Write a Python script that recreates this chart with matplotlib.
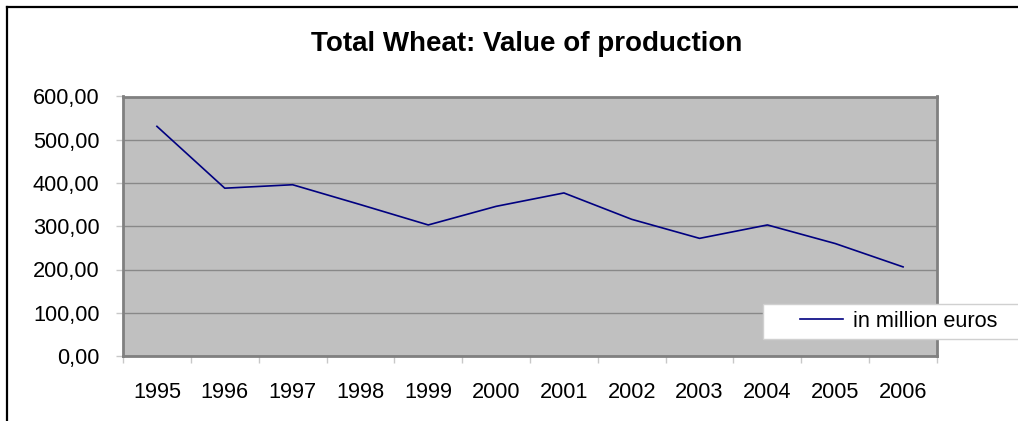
import matplotlib
matplotlib.use("Agg")
import matplotlib.pyplot as plt
from matplotlib.lines import Line2D
from matplotlib.patches import Rectangle
import numpy as np

plt.rcParams['font.family'] = ['Liberation Sans', 'DejaVu Sans']

years = ['1995', '1996', '1997', '1998', '1999', '2000',
         '2001', '2002', '2003', '2004', '2005', '2006']
value = [531, 388, 396, 350, 303, 346, 377, 316, 272, 303, 260, 206]
series_name = 'in million euros'
yticks = [0, 100, 200, 300, 400, 500, 600]

W, H = 1018, 421
fig = plt.figure(figsize=(W / 100, H / 100), dpi=100)
fig.patch.set_facecolor('white')

# plot area in pixels: x 123..937, y 96..356
ax = fig.add_axes([123 / W, 1 - 356 / H, (937 - 123) / W, (356 - 96.5) / H])
ax.set_facecolor('#c0c0c0')

x = np.arange(len(years))
ax.plot(x, value, color='#000080', lw=1.2, label=series_name, zorder=3)

ax.set_xlim(-0.5, len(years) - 0.5)
ax.set_ylim(0, 600)

ax.set_yticks(yticks)
ax.set_yticklabels([('%.2f' % v).replace('.', ',') for v in yticks])
ax.yaxis.grid(True, color='#888888', lw=1.0)
ax.set_axisbelow(True)

# category labels in the middle, small ticks on the boundaries
ax.set_xticks(x)
ax.set_xticklabels(years)
ax.set_xticks(np.arange(len(years) + 1) - 0.5, minor=True)
ax.tick_params(axis='x', which='major', length=0, pad=19, labelsize=15.7, colors='black')
ax.tick_params(axis='x', which='minor', length=5, width=1, color='#c8c8c8')
ax.tick_params(axis='y', length=5, width=1, color='#c8c8c8', pad=12, labelsize=15.7)
# two of the boundary ticks are black in the original
minor_ticks = ax.xaxis.get_minor_ticks()
for i in (4, 11):
    minor_ticks[i].tick1line.set_color('black')

for s in ax.spines.values():
    s.set_color('#808080')
    s.set_linewidth(2)

fig.text(527 / W, 1 - 50.7 / H, 'Total Wheat: Value of production',
         ha='center', va='baseline', fontsize=20, fontweight='bold')

# legend box (runs off the right edge)
fig.patches.append(Rectangle((763 / W, 1 - 339 / H), 0.3, 35 / H,
                             transform=fig.transFigure, facecolor='white',
                             edgecolor='#d0d0d0', lw=1, zorder=5))
leg = fig.legend(loc='center left', bbox_to_anchor=(800 / W, 1 - 321.5 / H),
                 bbox_transform=fig.transFigure, frameon=False, fontsize=15.7,
                 borderpad=0, borderaxespad=0, handlelength=1.95, handletextpad=0.5)
leg.set_zorder(6)

# outer chart border
fig.lines.append(Line2D([6.5 / W, 6.5 / W], [0, 1 - 7 / H], transform=fig.transFigure,
                        color='black', lw=1.6))
fig.lines.append(Line2D([6.5 / W, 1], [1 - 7 / H, 1 - 7 / H], transform=fig.transFigure,
                        color='black', lw=1.6))

fig.savefig('out.png', dpi=100)
